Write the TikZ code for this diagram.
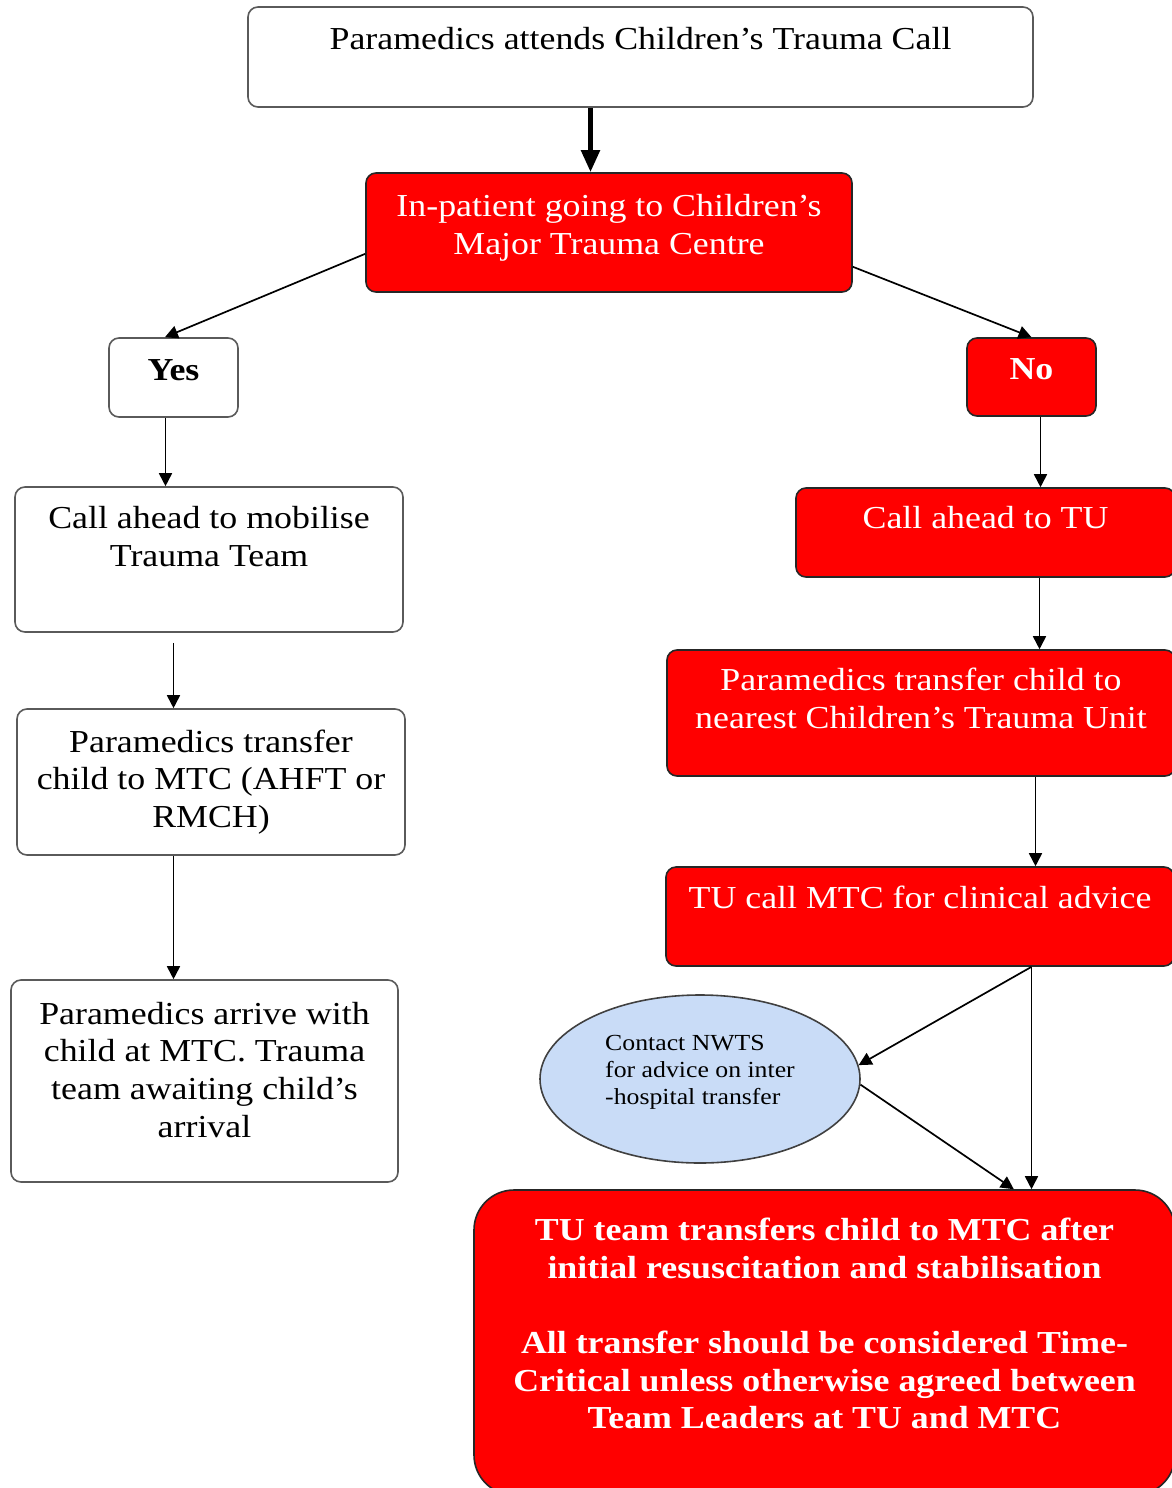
\documentclass[tikz,border=0pt]{standalone}
\usepackage{fontspec}
\setmainfont{Liberation Serif}[FakeStretch=1.12]
\usetikzlibrary{arrows.meta, shapes.geometric}
\definecolor{flowRed}{HTML}{FF0000}
\definecolor{nwtsBlue}{HTML}{C9DCF7}
\definecolor{boxGrey}{HTML}{5A5A5A}

\begin{document}
\begin{tikzpicture}[x=0.5pt, y=-0.5pt,
    wbox/.style={rectangle, rounded corners=5pt, draw=boxGrey, fill=white,
                 line width=0.8pt, align=center, inner sep=2pt,
                 font=\fontsize{16}{18.8}\selectfont},
    rbox/.style={wbox, draw=black!85, fill=flowRed, text=white},
    arr/.style={-{Triangle[length=6.5pt, width=6.5pt]}, line width=0.85pt},
  ]
  \useasboundingbox (0,0) rectangle (1172,1488);

  % top of the chart
  \node[wbox, minimum width=392.5pt, minimum height=50pt] (start) at (640.5,57)
    {Paramedics attends Children's Trauma Call\\ \mbox{}};
  \node[rbox, minimum width=243pt, minimum height=59.5pt] (inp) at (609,232.5)
    {In-patient going to Children's\\Major Trauma Centre\\[-10.8pt]\mbox{}};

  % yes branch
  \node[wbox, font=\fontsize{16}{18.8}\selectfont\bfseries,
        minimum width=64.5pt, minimum height=39.5pt] (yes) at (173.5,377.5)
    {Yes\\[-11pt]\mbox{}};
  \node[wbox, minimum width=194pt, minimum height=72.5pt] (callmob) at (209,559.5)
    {Call ahead to mobilise\\Trauma Team\\[4.2pt]\mbox{}};
  \node[wbox, minimum width=194pt, minimum height=73pt] (paramtc) at (211,782)
    {Paramedics transfer\\child to MTC (AHFT or\\RMCH)};
  \node[wbox, minimum width=193.5pt, minimum height=101pt] (arrive) at (204.5,1081)
    {Paramedics arrive with\\child at MTC. Trauma\\team awaiting child's\\arrival\\[-7.3pt]\mbox{}};

  % no branch
  \node[rbox, font=\fontsize{16}{18.8}\selectfont\bfseries,
        minimum width=64.5pt, minimum height=39pt] (no) at (1031.5,377)
    {No\\[-11pt]\mbox{}};
  \node[rbox, minimum width=189.5pt, minimum height=44.5pt] (calltu) at (985.5,532.5)
    {Call ahead to TU\\[-3.3pt]\mbox{}};
  \node[rbox, minimum width=254pt, minimum height=63pt] (paratu) at (921,713)
    {Paramedics transfer child to\\nearest Children's Trauma Unit\\[-4.3pt]\mbox{}};
  \node[rbox, minimum width=254pt, minimum height=49.5pt] (tucall) at (920,916.5)
    {TU call MTC for clinical advice\\ \mbox{}};
  \node[ellipse, draw=black!75, fill=nwtsBlue, line width=0.8pt, align=left,
        minimum width=160pt, minimum height=84pt, inner sep=1pt,
        font=\fontsize{11.5}{13.5}\selectfont] (nwts) at (700,1079)
    {Contact NWTS\\for advice on inter\\-hospital transfer\\[-4.5pt]\mbox{}};
  \node[rbox, rounded corners=20pt, font=\fontsize{16}{18.8}\selectfont\bfseries,
        minimum width=350.5pt, minimum height=152.5pt] (final) at (824.5,1342.5)
    {TU team transfers child to MTC after\\initial resuscitation and stabilisation\\[18.8pt]All transfer should be considered Time-\\Critical unless otherwise agreed between\\Team Leaders at TU and MTC\\ \mbox{}};

  % connectors
  \draw[-{Triangle[length=11pt, width=9pt]}, line width=2.5pt]
    ([xshift=-25pt]start.south) -- ([xshift=-25pt]start.south |- inp.north);
  \draw[arr] (inp.185) -- (yes.102);
  \draw[arr] (inp.-8) -- (no.north);

  \draw[arr] ([xshift=-4pt]yes.south) -- ([xshift=-4pt]yes.south |- callmob.north);
  \draw[arr] ([yshift=-5pt]yes.south |- callmob.south) -- (yes.south |- paramtc.north);
  \draw[arr] (yes.south |- paramtc.south) -- (yes.south |- arrive.north);

  \draw[arr] ([xshift=4.5pt]no.south) -- ([xshift=4.5pt]no.south |- calltu.north);
  \draw[arr] ([xshift=4pt]no.south |- calltu.south) -- ([xshift=4pt]no.south |- paratu.north);
  \draw[arr] ([xshift=2pt]no.south |- paratu.south) -- ([xshift=2pt]no.south |- tucall.north);
  \draw[arr] (no.south |- tucall.south) -- (no.south |- final.north);
  \draw[arr] (no.south |- tucall.south) -- (nwts.5);
  \draw[arr] (nwts.-2) -- (final.39);
\end{tikzpicture}
\end{document}
